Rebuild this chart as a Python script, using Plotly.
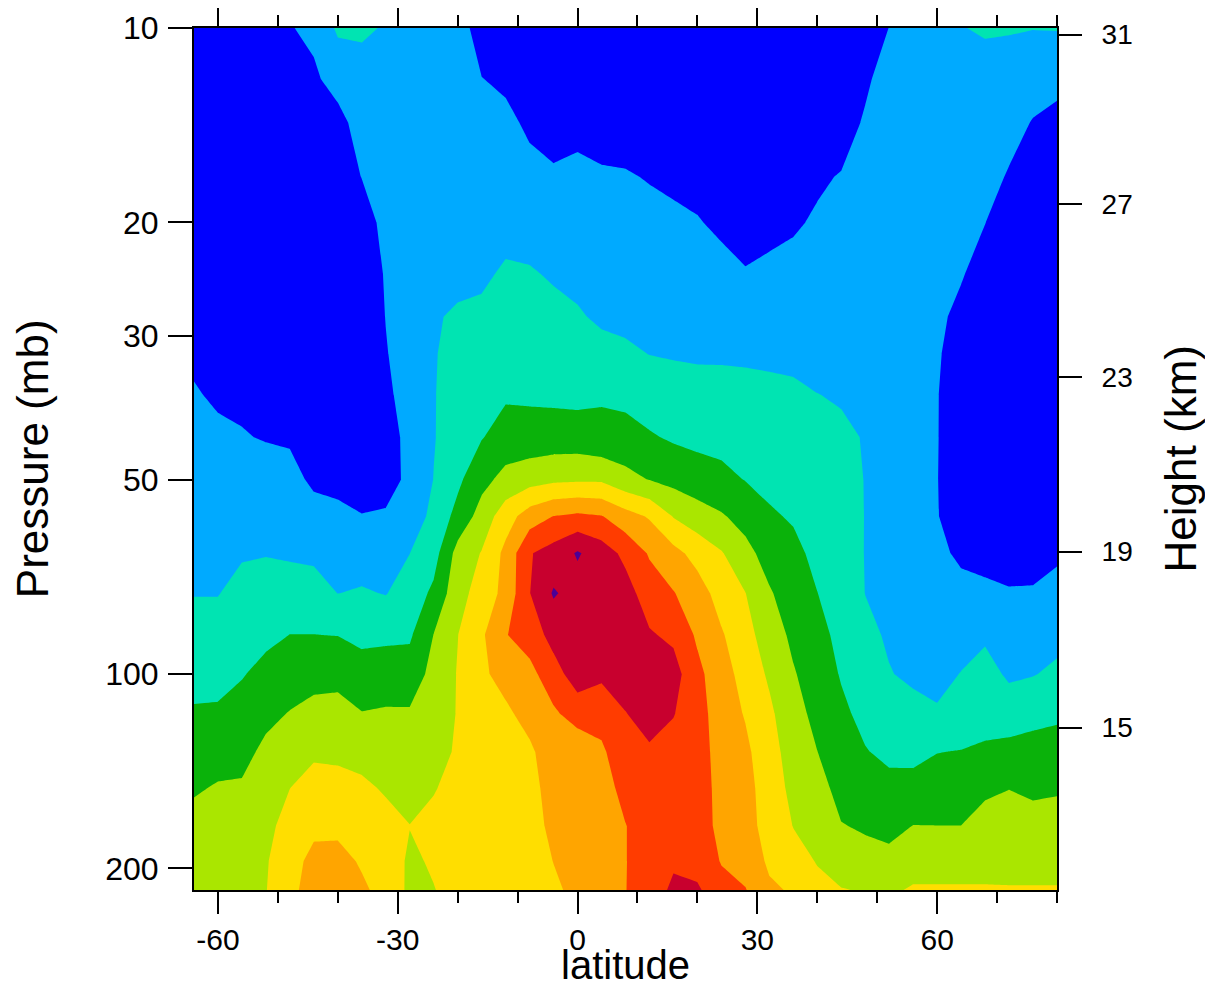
import numpy as np
import plotly.graph_objects as go

# ---------------- data ----------------
latitude = [-64, -60, -56, -52, -48, -44, -40, -36, -32, -28, -24, -20, -16, -12, -8, -4,
            0, 4, 8, 12, 16, 20, 24, 28, 32, 36, 40, 44, 48, 52, 56, 60, 64, 68, 72, 76, 80]
pressure = [10, 12, 14, 17, 20, 24, 28, 32, 37, 43, 50, 57, 65, 75, 87, 100, 115, 132, 150, 172, 195, 216]

# contour-level field, one list per latitude (top = 10 mb -> bottom)
z_m64 = [0.1, 0.2, 0.3, 0.4, 0.5, 0.65, 0.8, 0.9, 1.05, 1.25, 1.44, 1.61, 1.78, 1.97, 2.32, 2.70, 3.09, 3.5, 3.89, 4.32, 4.7, 4.85]
z_m60 = [0.2, 0.2, 0.3, 0.4, 0.5, 0.6, 0.7, 0.8, 0.92, 1.11, 1.34, 1.55, 1.75, 1.97, 2.34, 2.71, 3.12, 3.62, 4.08, 4.5, 4.8, 4.9]
z_m56 = [0.3, 0.25, 0.3, 0.4, 0.5, 0.6, 0.7, 0.8, 0.88, 1.04, 1.36, 1.64, 1.92, 2.26, 2.61, 2.94, 3.34, 3.73, 4.1, 4.45, 4.75, 4.9]
z_m52 = [0.6, 0.4, 0.35, 0.4, 0.5, 0.6, 0.7, 0.78, 0.86, 0.96, 1.29, 1.63, 1.96, 2.37, 2.8, 3.26, 3.77, 4.2, 4.5, 4.75, 4.92, 4.97]
z_m48 = [0.95, 0.55, 0.4, 0.4, 0.45, 0.55, 0.65, 0.72, 0.8, 0.9, 1.26, 1.58, 1.89, 2.4, 3.01, 3.52, 4.04, 4.52, 4.99, 5.35, 5.6, 5.7]
z_m44 = [1.2, 0.85, 0.5, 0.4, 0.35, 0.35, 0.35, 0.4, 0.5, 0.65, 0.85, 1.3, 1.81, 2.39, 3.01, 3.66, 4.3, 4.87, 5.31, 5.76, 6.3, 6.5]
z_m40 = [2.15, 1.35, 0.7, 0.5, 0.4, 0.35, 0.3, 0.3, 0.35, 0.5, 0.75, 1.21, 1.59, 1.99, 2.98, 3.72, 4.32, 4.82, 5.29, 5.79, 6.3, 6.5]
z_m36 = [2.2, 1.5, 1.4, 1.02, 0.6, 0.4, 0.35, 0.35, 0.4, 0.55, 0.75, 1.02, 1.53, 2.1, 2.77, 3.4, 4.03, 4.69, 5.17, 5.55, 5.9, 6.15]
z_m32 = [1.9, 1.6, 1.55, 1.5, 1.25, 1.08, 1.02, 0.95, 0.85, 0.7, 0.65, 1.1, 1.5, 1.96, 2.8, 3.5, 4.1, 4.5, 4.9, 5.3, 5.55, 5.7]
z_m28 = [1.55, 1.5, 1.5, 1.5, 1.45, 1.45, 1.45, 1.4, 1.3, 1.2, 1.2, 1.35, 1.99, 2.42, 2.86, 3.46, 4.1, 4.4, 4.6, 5.02, 4.85, 4.8]
z_m24 = [1.6, 1.5, 1.5, 1.55, 1.6, 1.7, 1.93, 1.96, 1.96, 1.95, 2.02, 2.3, 2.6, 3.2, 4.02, 4.3, 4.5, 4.7, 4.95, 5.2, 5.1, 4.97]
z_m20 = [1.4, 1.5, 1.6, 1.65, 1.7, 1.8, 2.1, 2.2, 2.35, 2.5, 2.8, 3.3, 4.35, 4.65, 4.98, 5.05, 5.05, 5.1, 5.25, 5.4, 5.5, 5.3]
z_m16 = [0.6, 1.02, 1.3, 1.5, 1.65, 1.87, 2.15, 2.35, 2.65, 2.95, 3.7, 4.4, 5.05, 5.4, 5.85, 5.8, 5.6, 5.5, 5.5, 5.5, 5.5, 5.5]
z_m12 = [0.5, 0.85, 1.2, 1.5, 1.75, 2.1, 2.35, 2.6, 2.88, 3.42, 4.3, 5.55, 6.25, 6.3, 6.95, 6.4, 5.8, 5.6, 5.5, 5.5, 5.45, 5.4]
z_m8 = [0.4, 0.6, 0.85, 1.25, 1.6, 2.08, 2.35, 2.6, 2.85, 3.4, 4.6, 6.48, 7.93, 7.97, 7.45, 6.7, 6.4, 5.8, 5.6, 5.5, 5.45, 5.4]
z_m4 = [0.3, 0.5, 0.7, 1.1, 1.45, 1.9, 2.25, 2.5, 2.8, 3.45, 4.8, 7.02, 8.4, 9.1, 8.35, 7.6, 6.85, 6.65, 6.5, 6.3, 6.02, 5.8]
z_0 = [0.25, 0.45, 0.7, 1.25, 1.5, 1.75, 2.1, 2.4, 2.75, 3.45, 4.85, 7.2, 9.1, 8.6, 8.5, 8.5, 7.45, 6.3, 6.4, 6.4, 6.35, 6.3]
z_4 = [0.25, 0.45, 0.65, 1.1, 1.35, 1.6, 1.85, 2.3, 2.9, 3.25, 4.85, 7.05, 8.5, 8.6, 8.5, 8.2, 7.35, 6.85, 6.6, 6.5, 6.4, 6.35]
z_8 = [0.25, 0.4, 0.6, 1.07, 1.3, 1.55, 1.8, 2.15, 2.75, 3.35, 4.3, 6.4, 7.75, 8.4, 8.5, 8.35, 7.98, 7.6, 7.3, 6.97, 6.97, 6.98]
z_12 = [0.2, 0.35, 0.55, 0.95, 1.25, 1.5, 1.75, 1.99, 2.5, 3.1, 3.97, 5.9, 6.9, 7.5, 8.1, 8.4, 8.3, 7.9, 7.6, 7.5, 7.45, 7.45]
z_16 = [0.2, 0.3, 0.5, 0.85, 1.15, 1.45, 1.7, 1.93, 2.4, 2.88, 3.7, 4.95, 6.3, 7.05, 7.8, 8.4, 8.05, 7.65, 7.5, 7.6, 7.85, 8.2]
z_20 = [0.2, 0.3, 0.45, 0.75, 1.05, 1.35, 1.65, 1.9, 2.3, 2.75, 3.45, 4.45, 5.65, 6.45, 6.85, 7.25, 7.4, 7.45, 7.45, 7.45, 7.6, 8.15]
z_24 = [0.2, 0.3, 0.4, 0.6, 0.85, 1.25, 1.6, 1.9, 2.28, 2.7, 3.25, 4.1, 5.07, 5.6, 6.1, 6.4, 6.5, 6.6, 6.7, 6.75, 6.95, 7.3]
z_28 = [0.2, 0.25, 0.35, 0.5, 0.7, 1.05, 1.5, 1.88, 2.25, 2.6, 2.97, 3.65, 4.3, 5.02, 5.35, 5.65, 5.93, 6.2, 6.35, 6.4, 6.6, 7.05]
z_32 = [0.2, 0.25, 0.35, 0.55, 0.8, 1.15, 1.5, 1.85, 2.2, 2.5, 2.8, 3.1, 3.6, 4.1, 4.5, 4.85, 5.2, 5.4, 5.5, 5.6, 5.85, 6.15]
z_36 = [0.2, 0.25, 0.35, 0.6, 0.9, 1.25, 1.55, 1.85, 2.12, 2.4, 2.68, 2.92, 3.2, 3.5, 3.8, 4.08, 4.3, 4.55, 4.75, 4.98, 5.3, 5.9]
z_40 = [0.2, 0.3, 0.45, 0.88, 1.1, 1.35, 1.6, 1.8, 2.01, 2.22, 2.43, 2.6, 2.8, 3.01, 3.27, 3.52, 3.77, 4.01, 4.33, 4.66, 4.96, 5.2]
z_44 = [0.2, 0.35, 0.6, 1.05, 1.25, 1.45, 1.65, 1.8, 1.95, 2.1, 2.25, 2.38, 2.5, 2.63, 2.77, 2.93, 3.18, 3.45, 3.7, 4.04, 4.45, 5.05]
z_48 = [0.3, 0.85, 1.1, 1.3, 1.45, 1.6, 1.72, 1.82, 1.9, 1.97, 1.98, 1.98, 1.97, 1.99, 2.2, 2.45, 2.75, 3.05, 3.45, 3.9, 4.3, 4.92]
z_52 = [1.02, 1.4, 1.4, 1.55, 1.62, 1.66, 1.7, 1.72, 1.75, 1.77, 1.78, 1.8, 1.82, 1.85, 1.9, 2.04, 2.4, 2.8, 3.25, 3.7, 4.3, 4.85]
z_56 = [1.3, 1.45, 1.55, 1.6, 1.62, 1.6, 1.55, 1.5, 1.48, 1.47, 1.47, 1.5, 1.55, 1.6, 1.7, 1.85, 2.25, 2.75, 3.3, 4.02, 4.6, 5.1]
z_60 = [1.4, 1.5, 1.45, 1.35, 1.3, 1.2, 1.12, 1.07, 1.03, 1.03, 1.02, 1.03, 1.15, 1.3, 1.5, 1.72, 2.1, 2.98, 3.4, 4.01, 4.6, 5.1]
z_64 = [1.95, 1.5, 1.4, 1.3, 1.2, 1.05, 0.85, 0.7, 0.6, 0.55, 0.55, 0.65, 0.88, 1.2, 1.6, 2.03, 2.45, 3.03, 3.4, 4.01, 4.6, 5.1]
z_68 = [2.15, 1.45, 1.35, 1.2, 1.01, 0.75, 0.55, 0.45, 0.4, 0.38, 0.38, 0.45, 0.7, 1.2, 1.85, 2.35, 2.7, 3.12, 3.85, 4.3, 4.6, 5.1]
z_72 = [2.1, 1.4, 1.2, 0.95, 0.7, 0.5, 0.4, 0.35, 0.3, 0.3, 0.3, 0.35, 0.6, 1.08, 1.5, 1.85, 2.5, 3.3, 3.98, 4.35, 4.6, 5.08]
z_76 = [2.03, 1.25, 0.97, 0.7, 0.5, 0.4, 0.35, 0.3, 0.3, 0.3, 0.3, 0.35, 0.6, 1.1, 1.55, 1.95, 2.75, 3.3, 3.85, 4.3, 4.6, 5.08]
z_80 = [2.05, 1.2, 0.8, 0.55, 0.4, 0.35, 0.3, 0.3, 0.3, 0.3, 0.35, 0.45, 0.85, 1.3, 1.7, 2.2, 2.85, 3.35, 3.9, 4.35, 4.6, 5.08]

level_colors = ["#0000FF", "#00AAFF", "#00E4B2", "#0AB20A", "#AAE600",
                "#FFDE00", "#FFA500", "#FF3C00", "#C8002E", "#4B0096"]

lat_ticks = [-60, -30, 0, 30, 60]
lat_minor = [-50, -40, -20, -10, 10, 20, 40, 50, 70, 80]
pressure_ticks = [10, 20, 30, 50, 100, 200]
height_labels = ["31", "27", "23", "19", "15"]
height_pressure = [10.24, 18.73, 34.67, 64.67, 121.1]

# ---------------- figure ----------------
columns = [z_m64, z_m60, z_m56, z_m52, z_m48, z_m44, z_m40, z_m36, z_m32, z_m28, z_m24,
           z_m20, z_m16, z_m12, z_m8, z_m4, z_0, z_4, z_8, z_12, z_16, z_20, z_24, z_28,
           z_32, z_36, z_40, z_44, z_48, z_52, z_56, z_60, z_64, z_68, z_72, z_76, z_80]
z = np.array(columns, dtype=float).T

n = len(level_colors)
colorscale = []
for i, c in enumerate(level_colors):
    lo = max(0.0, (i - 0.5) / (n - 1))
    hi = min(1.0, (i + 0.5) / (n - 1))
    colorscale += [[lo, c], [hi, c]]

FONT = "Liberation Sans, Arial, Helvetica, sans-serif"
yrange = [np.log10(pressure[-1]), np.log10(pressure[0])]

fig = go.Figure()
fig.add_trace(go.Contour(
    x=latitude, y=pressure, z=z,
    colorscale=colorscale, showscale=False, autocontour=False,
    contours=dict(start=1, end=9, size=1, coloring="fill", showlines=False),
    line=dict(width=0, smoothing=0), hoverinfo="skip",
))
fig.add_trace(go.Scatter(
    x=[latitude[0]], y=[pressure[0]], yaxis="y2", mode="markers",
    marker=dict(opacity=0), showlegend=False, hoverinfo="skip",
))

# page body has an 8px margin: figure is 1205x979 so the plot lands at 194..1057 / 28..890
fig.update_layout(
    template="none",
    width=1205, height=979, autosize=False,
    margin=dict(l=186, r=156, t=20, b=97, pad=0),
    paper_bgcolor="white", plot_bgcolor="white", showlegend=False,
    xaxis=dict(
        range=[latitude[0], latitude[-1]], tickmode="array", tickvals=lat_ticks,
        ticktext=[str(v) for v in lat_ticks], automargin=False,
        ticks="outside", ticklen=22, tickwidth=2, tickcolor="black",
        showline=True, linewidth=2, linecolor="black", mirror="ticks",
        showgrid=False, zeroline=False, ticklabelstandoff=0,
        tickfont=dict(family=FONT, size=30, color="black"),
        minor=dict(tickmode="array", tickvals=lat_minor, ticks="outside",
                   ticklen=11, tickwidth=2, tickcolor="black", showgrid=False),
    ),
    yaxis=dict(
        type="log", range=yrange, tickmode="array", tickvals=pressure_ticks,
        ticktext=[str(v) for v in pressure_ticks], automargin=False,
        ticks="outside", ticklen=24, tickwidth=2, tickcolor="black",
        showline=True, linewidth=2, linecolor="black", mirror=True,
        showgrid=False, zeroline=False, ticklabelstandoff=3,
        tickfont=dict(family=FONT, size=32, color="black"),
    ),
    yaxis2=dict(
        type="log", range=yrange, overlaying="y", side="right", anchor="x",
        tickmode="array", tickvals=height_pressure, ticktext=height_labels,
        automargin=False,
        ticks="outside", ticklen=24, tickwidth=2, tickcolor="black",
        showline=False, showgrid=False, zeroline=False, ticklabelstandoff=14,
        tickfont=dict(family=FONT, size=28, color="black"),
    ),
    annotations=[
        dict(text="latitude", x=0.5, y=-0.087, xref="paper", yref="paper",
             xanchor="center", yanchor="middle", showarrow=False,
             font=dict(family=FONT, size=40, color="black")),
        dict(text="Pressure (mb)", x=-0.1875, y=0.5, xref="paper", yref="paper",
             xanchor="center", yanchor="middle", textangle=-90, showarrow=False,
             font=dict(family=FONT, size=44, color="black")),
        dict(text="Height (km)", x=1.143, y=0.5, xref="paper", yref="paper",
             xanchor="center", yanchor="middle", textangle=-90, showarrow=False,
             font=dict(family=FONT, size=44, color="black")),
    ],
)

fig.write_html("out.html")
